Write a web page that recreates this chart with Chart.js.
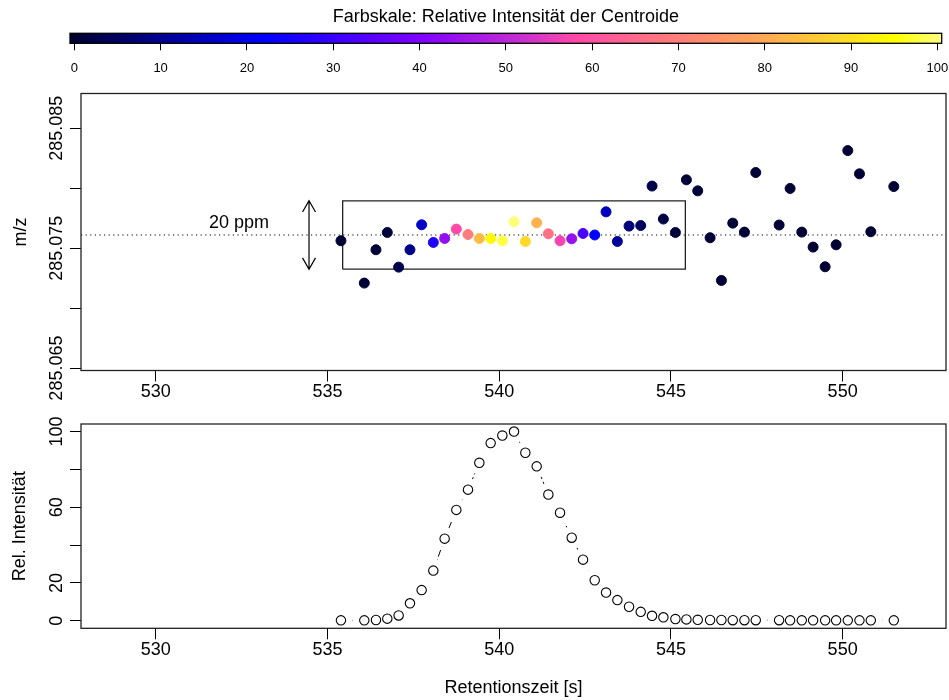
<!DOCTYPE html>
<html>
<head>
<meta charset="utf-8">
<script src="https://cdn.jsdelivr.net/npm/chart.js@4"></script>
<style>
    html, body { margin: 0; padding: 0; background: #fff; }
    #wrap { position: relative; width: 949px; height: 700px; }
    canvas { position: absolute; left: 0; }
</style>
</head>
<body>
<div id="wrap">
    <canvas id="scaleBar" width="949" height="80" style="top:0px"></canvas>
    <canvas id="mzChart" width="949" height="330" style="top:80px"></canvas>
    <canvas id="intChart" width="949" height="290" style="top:410px"></canvas>
</div>
<script>
// Retention time of each centroid (s)
const rtValues = [535.39, 536.07, 536.41, 536.74, 537.07, 537.40, 537.74, 538.08, 538.41, 538.75,
    539.09, 539.42, 539.75, 540.09, 540.43, 540.76, 541.09, 541.43, 541.77, 542.11,
    542.44, 542.78, 543.11, 543.44, 543.78, 544.12, 544.45, 544.78, 545.13, 545.45,
    545.78, 546.14, 546.47, 546.80, 547.14, 547.47, 548.15, 548.47, 548.81, 549.14,
    549.49, 549.81, 550.15, 550.49, 550.82, 551.49];

// m/z of each centroid
const mzValues = [285.07562, 285.07209, 285.07487, 285.07631, 285.07342, 285.07487, 285.07695, 285.07548, 285.07581, 285.07659,
    285.07614, 285.07581, 285.07581, 285.07562, 285.07720, 285.07556, 285.07712, 285.07620, 285.07562, 285.07578,
    285.07623, 285.07610, 285.07803, 285.07556, 285.07684, 285.07689, 285.08018, 285.07743, 285.07631, 285.08070,
    285.07978, 285.07587, 285.07231, 285.07709, 285.07634, 285.08131, 285.07693, 285.07998, 285.07634, 285.07509,
    285.07345, 285.07528, 285.08314, 285.08120, 285.07637, 285.08014];

// relative intensity (%)
const intensityValues = [0.2, 0.2, 0.4, 1.1, 2.8, 9.2, 16.2, 26.5, 43.4, 58.6,
    69.3, 83.5, 93.9, 97.9, 100, 88.8, 81.6, 66.7, 57.1, 43.9,
    32.3, 21.4, 14.9, 10.9, 7.4, 4.7, 2.6, 1.8, 0.9, 0.7,
    0.5, 0.4, 0.4, 0.3, 0.3, 0.3, 0.3, 0.2, 0.2, 0.2,
    0.2, 0.2, 0.2, 0.2, 0.2, 0.2];

const rtTicks = [530, 535, 540, 545, 550];
const mzTicks = [285.065, 285.070, 285.075, 285.080, 285.085];
const mzTickLabels = ['285.065', '', '285.075', '', '285.085'];
const intTicks = [0, 20, 40, 60, 80, 100];
const intTickLabels = ['0', '20', '', '60', '', '100'];
const colorTicks = [0, 10, 20, 30, 40, 50, 60, 70, 80, 90, 100];

const rtRange = [527.82, 553.01];
const mzRange = [285.0648, 285.0879];
const intRange = [-4, 104];

const mzRef = 285.0761;      // dotted reference line
const ppmWindow = 10;        // +/- ppm of the box
const boxRt = [535.44, 545.42];
const arrowRt = 534.46;
const ppmLabelPos = [532.42, 285.0771];

// palette of the colour scale
const colorStops = [
    [0, '#000033'], [22, '#0000FF'], [40, '#7F00FF'], [52, '#C830D0'], [58, '#FF48AA'],
    [66, '#FF6E88'], [80, '#FFA855'], [90, '#FFE020'], [95, '#FFFF00'], [100, '#FFFF77']
];

const FONT_FAMILY = "'Liberation Sans', Arial, Helvetica, sans-serif";
Chart.defaults.font.family = FONT_FAMILY;
Chart.defaults.font.size = 18;
Chart.defaults.color = '#000';

function hexToRgb(h) {
    return [parseInt(h.slice(1, 3), 16), parseInt(h.slice(3, 5), 16), parseInt(h.slice(5, 7), 16)];
}

function colorFor(v) {
    for (let i = 1; i < colorStops.length; i++) {
        const [v1, c1] = colorStops[i];
        const [v0, c0] = colorStops[i - 1];
        if (v <= v1) {
            const t = (v - v0) / (v1 - v0);
            const a = hexToRgb(c0), b = hexToRgb(c1);
            const rgb = a.map((x, k) => Math.round(x + (b[k] - x) * t));
            return `rgb(${rgb[0]},${rgb[1]},${rgb[2]})`;
        }
    }
    return colorStops[colorStops.length - 1][1];
}

const ppmDelta = mzRef * ppmWindow * 1e-6;

// keep the plot area where we put it: no extra padding for overhanging labels
function fixHeight(h) {
    return s => { s.height = h; s.paddingLeft = 0; s.paddingRight = 0; s.paddingTop = 0; s.paddingBottom = 0; };
}
function fixWidth(w) {
    return s => { s.width = w; s.paddingLeft = 0; s.paddingRight = 0; s.paddingTop = 0; s.paddingBottom = 0; };
}

// frame + rotated y tick labels (R style)
function framePlugin(tickValues, tickLabels) {
    return {
        id: 'frame',
        afterDraw(chart) {
            const { ctx, chartArea: a, scales: { y } } = chart;
            ctx.save();
            ctx.strokeStyle = '#222';
            ctx.lineWidth = 1.3;
            ctx.strokeRect(a.left, a.top, a.width, a.height);
            ctx.fillStyle = '#000';
            ctx.font = `18px ${FONT_FAMILY}`;
            ctx.textAlign = 'center';
            ctx.textBaseline = 'middle';
            tickValues.forEach((v, i) => {
                if (!tickLabels[i]) return;
                const py = y.getPixelForValue(v);
                ctx.save();
                ctx.translate(y.right - 24, py);
                ctx.rotate(-Math.PI / 2);
                ctx.fillText(tickLabels[i], 0, 0);
                ctx.restore();
            });
            ctx.restore();
        }
    };
}

const ppmPlugin = {
    id: 'ppmArrow',
    afterDatasetsDraw(chart) {
        const { ctx, scales: { x, y } } = chart;
        const px = x.getPixelForValue(arrowRt);
        const top = y.getPixelForValue(mzRef + ppmDelta);
        const bottom = y.getPixelForValue(mzRef - ppmDelta);
        const head = 13, ang = Math.PI / 6;
        ctx.save();
        ctx.strokeStyle = '#000';
        ctx.lineWidth = 1.2;
        ctx.beginPath();
        ctx.moveTo(px, top); ctx.lineTo(px, bottom);
        ctx.moveTo(px - head * Math.sin(ang), top + head * Math.cos(ang)); ctx.lineTo(px, top);
        ctx.lineTo(px + head * Math.sin(ang), top + head * Math.cos(ang));
        ctx.moveTo(px - head * Math.sin(ang), bottom - head * Math.cos(ang)); ctx.lineTo(px, bottom);
        ctx.lineTo(px + head * Math.sin(ang), bottom - head * Math.cos(ang));
        ctx.stroke();
        ctx.fillStyle = '#000';
        ctx.font = `18px ${FONT_FAMILY}`;
        ctx.textAlign = 'center';
        ctx.textBaseline = 'middle';
        ctx.fillText(`${ppmWindow * 2} ppm`, x.getPixelForValue(ppmLabelPos[0]), y.getPixelForValue(ppmLabelPos[1]));
        ctx.restore();
    }
};

const colorBarPlugin = {
    id: 'colorBar',
    beforeDatasetsDraw(chart) {
        const { ctx, chartArea: a, scales: { x } } = chart;
        const g = ctx.createLinearGradient(x.getPixelForValue(0), 0, x.getPixelForValue(100), 0);
        colorStops.forEach(([v, c]) => g.addColorStop(v / 100, c));
        ctx.save();
        ctx.fillStyle = g;
        ctx.fillRect(a.left, a.top, a.width, a.height);
        ctx.strokeStyle = '#000';
        ctx.lineWidth = 1.3;
        ctx.strokeRect(a.left, a.top, a.width, a.height);
        ctx.restore();
    }
};

const baseOptions = {
    responsive: false,
    animation: false,
    events: [],
    devicePixelRatio: 1,
};

const tickGrid = { drawOnChartArea: false, drawTicks: true, tickLength: 11, color: '#000', lineWidth: 1 };

// colour scale
new Chart(document.getElementById('scaleBar'), {
    type: 'scatter',
    data: { datasets: [] },
    options: {
        ...baseOptions,
        layout: { autoPadding: false, padding: { left: 70, right: 7.3, top: 0, bottom: 0 } },
        plugins: {
            legend: { display: false },
            tooltip: { enabled: false },
            title: {
                display: true,
                text: 'Farbskale: Relative Intensität der Centroide',
                font: { size: 18, weight: 'normal' },
                color: '#000',
                padding: { top: 6.2, bottom: 5.5 }
            }
        },
        scales: {
            x: {
                type: 'linear', min: -0.5, max: 100.5,
                afterBuildTicks: s => { s.ticks = colorTicks.map(v => ({ value: v })); },
                afterFit: fixHeight(36.7),
                grid: { ...tickGrid, tickLength: 7 },
                border: { display: false },
                ticks: { font: { size: 13 }, padding: 10.2, maxRotation: 0, autoSkip: false, callback: v => String(v) }
            },
            y: { display: false, min: 0, max: 1 }
        }
    },
    plugins: [colorBarPlugin]
});

// m/z vs retention time
new Chart(document.getElementById('mzChart'), {
    type: 'scatter',
    data: {
        datasets: [
            {
                data: rtValues.map((rt, i) => ({ x: rt, y: mzValues[i] })),
                pointRadius: 5,
                pointBackgroundColor: intensityValues.map(colorFor),
                pointBorderColor: intensityValues.map(colorFor),
                pointBorderWidth: 1,
                showLine: false
            },
            {
                data: [
                    { x: boxRt[0], y: mzRef - ppmDelta }, { x: boxRt[1], y: mzRef - ppmDelta },
                    { x: boxRt[1], y: mzRef + ppmDelta }, { x: boxRt[0], y: mzRef + ppmDelta },
                    { x: boxRt[0], y: mzRef - ppmDelta }
                ],
                showLine: true, pointRadius: 0, borderColor: '#222', borderWidth: 1.3, fill: false
            },
            {
                data: [{ x: rtRange[0], y: mzRef }, { x: rtRange[1], y: mzRef }],
                showLine: true, pointRadius: 0, borderColor: '#000', borderWidth: 1, borderDash: [1.2, 3.4]
            }
        ]
    },
    options: {
        ...baseOptions,
        layout: { autoPadding: false, padding: { left: 0, right: 3, top: 13.5, bottom: 0 } },
        plugins: { legend: { display: false }, tooltip: { enabled: false } },
        scales: {
            x: {
                type: 'linear', min: rtRange[0], max: rtRange[1],
                afterBuildTicks: s => { s.ticks = rtTicks.map(v => ({ value: v })); },
                afterFit: fixHeight(39.5),
                grid: tickGrid,
                border: { display: false },
                ticks: { padding: 0, maxRotation: 0, autoSkip: false, callback: v => String(v) }
            },
            y: {
                type: 'linear', min: mzRange[0], max: mzRange[1],
                afterBuildTicks: s => { s.ticks = mzTicks.map(v => ({ value: v })); },
                afterFit: fixWidth(81),
                grid: tickGrid,
                border: { display: false },
                ticks: { display: false },
                title: { display: true, text: 'm/z', font: { size: 18 }, padding: { top: 10.5, bottom: 0 } }
            }
        }
    },
    plugins: [framePlugin(mzTicks, mzTickLabels), ppmPlugin]
});

// intensity vs retention time
new Chart(document.getElementById('intChart'), {
    type: 'scatter',
    data: {
        datasets: [
            {
                data: rtValues.map((rt, i) => ({ x: rt, y: intensityValues[i] })),
                pointRadius: 4.7,
                pointBackgroundColor: 'rgba(255,255,255,0)',
                pointBorderColor: '#000',
                pointBorderWidth: 1.1,
                showLine: false
            },
            {
                // white halo so the dashed line stops short of each circle
                data: rtValues.map((rt, i) => ({ x: rt, y: intensityValues[i] })),
                pointRadius: 11.5,
                pointBackgroundColor: '#fff',
                pointBorderWidth: 0,
                showLine: false
            },
            {
                data: rtValues.map((rt, i) => ({ x: rt, y: intensityValues[i] })),
                showLine: true, pointRadius: 0, borderColor: '#000', borderWidth: 1, borderDash: [7, 3]
            }
        ]
    },
    options: {
        ...baseOptions,
        layout: { autoPadding: false, padding: { left: 0, right: 3, top: 14, bottom: 0 } },
        plugins: { legend: { display: false }, tooltip: { enabled: false } },
        scales: {
            x: {
                type: 'linear', min: rtRange[0], max: rtRange[1],
                afterBuildTicks: s => { s.ticks = rtTicks.map(v => ({ value: v })); },
                afterFit: fixHeight(71.7),
                grid: tickGrid,
                border: { display: false },
                ticks: { padding: 0, maxRotation: 0, autoSkip: false, callback: v => String(v) },
                title: { display: true, text: 'Retentionszeit [s]', font: { size: 18 }, padding: { top: 0, bottom: 1.2 } }
            },
            y: {
                type: 'linear', min: intRange[0], max: intRange[1],
                afterBuildTicks: s => { s.ticks = intTicks.map(v => ({ value: v })); },
                afterFit: fixWidth(81),
                grid: tickGrid,
                border: { display: false },
                ticks: { display: false },
                title: { display: true, text: 'Rel. Intensität', font: { size: 18 }, padding: { top: 9.7, bottom: 0 } }
            }
        }
    },
    plugins: [framePlugin(intTicks, intTickLabels)]
});
</script>
</body>
</html>
